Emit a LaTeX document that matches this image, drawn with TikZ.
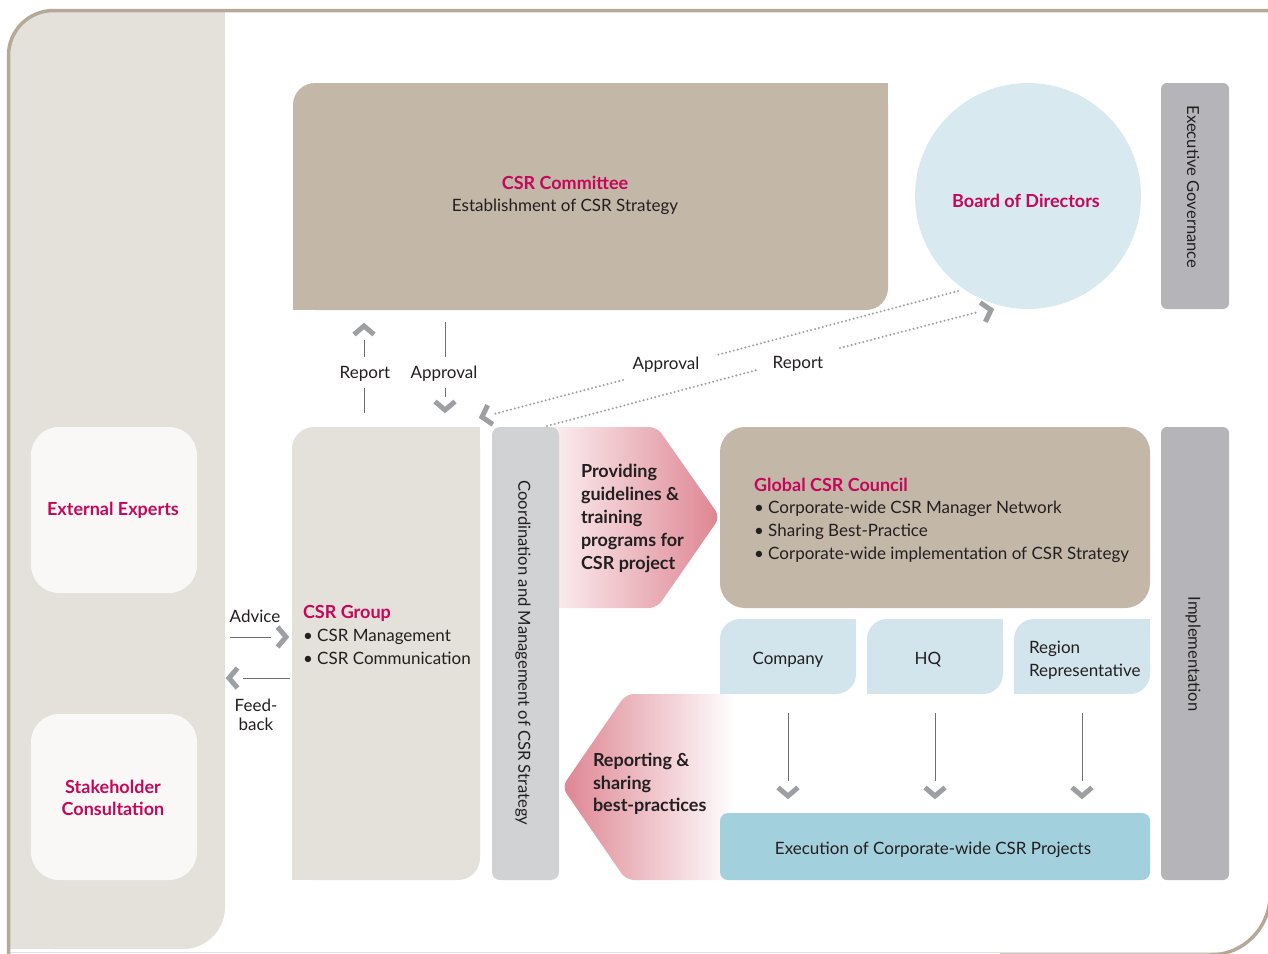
\documentclass[tikz,border=0pt]{standalone}
\usepackage{fontspec}
\setmainfont{Lato}
\usetikzlibrary{calc}
\definecolor{framec}{HTML}{B7A997}
\definecolor{panel}{HTML}{E4E0DA}
\definecolor{tanc}{HTML}{C3B7A8}
\definecolor{boardc}{HTML}{D9E9F0}
\definecolor{barc}{HTML}{B5B5B9}
\definecolor{coordc}{HTML}{D1D2D4}
\definecolor{lblue}{HTML}{D2E5EC}
\definecolor{execc}{HTML}{A3D0DD}
\definecolor{mag}{HTML}{C4075A}
\definecolor{pinkd}{HTML}{DE8592}
\definecolor{pinkl}{HTML}{FCF3F4}
\definecolor{boxw}{HTML}{F9F8F6}
\definecolor{chevc}{HTML}{9D9FA3}
\definecolor{dotc}{HTML}{A0A2A6}
\definecolor{thinc}{HTML}{6D6E71}
\definecolor{txt}{HTML}{231F20}
\tikzset{
  chev/.pic={\draw[draw=chevc, line width=5pt, line join=miter, line cap=butt] (-8.5,-10) -- (0,0) -- (-8.5,10);},
}
\newcommand{\hdfont}{\fontsize{18}{22.7}\selectfont\bfseries}
\begin{document}
\begin{tikzpicture}[x=1pt,y=-1pt,
  every node/.style={font=\fontsize{17}{22.7}\selectfont, text=txt, inner sep=0pt, outer sep=0pt},
  lb/.style={yshift=-2pt},
  thinl/.style={draw=thinc, line width=0.8pt},
  dotl/.style={draw=dotc, line width=2.3pt, line cap=round, dash pattern=on 0pt off 4pt},
  hd/.style={font=\hdfont, text=mag, yshift=-2pt},
  bd/.style={font=\fontsize{18}{22.8}\selectfont\bfseries, text=txt, align=left, yshift=-2pt},
  rot/.style={rotate=-90, font=\fontsize{16.6}{20}\selectfont},
]
\useasboundingbox (0,0) rectangle (1268,953);
% ---------- background panel and frame ----------
\fill[panel, rounded corners=42] (10,12) rectangle (225,949);
\fill[panel] (10,880) rectangle (80,949);
\fill[panel] (150,12) rectangle (225,90);
\draw[draw=black!12, line width=0.8pt] (10,952) -- (1230,952);
\draw[framec, line width=3.5pt, rounded corners=45] (8.5,1000) -- (8.5,10.5) -- (1300,10.5);
\draw[framec, line width=3.5pt, rounded corners=60] (1270,700) -- (1270,955) -- (1000,955);

% ---------- left boxes ----------
\node[fill=boxw, rounded corners=28, minimum width=166pt, minimum height=166pt, anchor=north west] (ext) at (31,427) {};
\node[hd] (extT) at (113,508) {External Experts};
\node[fill=boxw, rounded corners=28, minimum width=166pt, minimum height=166pt, anchor=north west] (stk) at (31,714) {};
\node[hd, align=center] (stkT) at (113,796) {Stakeholder\\Consultation};

% ---------- CSR Committee ----------
\node[fill=tanc, rounded corners=22, minimum width=595pt, minimum height=227pt, anchor=north west] (comm) at (293,83) {};
\fill[tanc] (840,83) rectangle (888,130);
\fill[tanc] (293,260) rectangle (340,310);
\node[lb, align=center] (commT) at (565,193.5) {\textcolor{mag}{\hdfont CSR Committee}\\Establishment of CSR Strategy};

% ---------- Board ----------
\node[circle, fill=boardc, minimum size=226pt] (board) at (1028,196) {};
\node[hd] (boardT) at (1026,199) {Board of Directors};

% ---------- side bars ----------
\node[fill=barc, rounded corners=6, minimum width=68pt, minimum height=226pt, anchor=north west] (gov) at (1161,83) {};
\node[rot] (govT) at (1193,187) {Executive Governance};
\node[fill=barc, rounded corners=6, minimum width=68pt, minimum height=453pt, anchor=north west] (impl) at (1161,427) {};
\node[rot] (implT) at (1193,654) {Implementation};

% ---------- pink arrows ----------
\shade[left color=pinkl, right color=pinkd, rounded corners=8] (545,427) -- (657,427) -- (720,517) -- (657,608) -- (545,608) -- cycle;
\node[bd, anchor=west] (provT) at (581,516.5) {Providing\\guidelines \&\\training\\programs for\\CSR project};
\shade[left color=pinkd, right color=white, rounded corners=8] (562,787) -- (626,694) -- (735,694) -- (735,880) -- (626,880) -- cycle;
\node[bd, anchor=west] (repT) at (593,782) {Reporting \&\\sharing\\best-practices};

% ---------- CSR Group ----------
\node[fill=panel, rounded corners=22, minimum width=188pt, minimum height=453pt, anchor=north west] (grp) at (292,427) {};
\fill[panel] (440,427) rectangle (480,470);
\fill[panel] (292,840) rectangle (330,880);
\node[lb, anchor=west, align=left] (grpT) at (303,633) {\textcolor{mag}{\hdfont CSR Group}\\\textbullet\ CSR Management\\\textbullet\ CSR Communication};

% ---------- Coordination bar ----------
\node[fill=coordc, rounded corners=8, minimum width=67pt, minimum height=453pt, anchor=north west] (coord) at (492,427) {};
\node[rot] (coordT) at (523,653) {Coordination and Management of CSR Strategy};

% ---------- Global CSR Council ----------
\node[fill=tanc, rounded corners=25, minimum width=430pt, minimum height=181pt, anchor=north west] (gcc) at (720,427) {};
\node[lb, anchor=west, align=left] (gccT) at (754,518) {\textcolor{mag}{\hdfont Global CSR Council}\\\textbullet\ Corporate-wide CSR Manager Network\\\textbullet\ Sharing Best-Practice\\\textbullet\ Corporate-wide implementation of CSR Strategy};

% ---------- small boxes ----------
\node[fill=lblue, rounded corners=20, minimum width=136pt, minimum height=75pt, anchor=north west] (comp) at (720,619) {};
\fill[lblue] (826,619) rectangle (856,650);
\fill[lblue] (720,664) rectangle (750,694);
\node[lb] (compT) at (788,658) {Company};
\node[fill=lblue, rounded corners=20, minimum width=136pt, minimum height=75pt, anchor=north west] (hq) at (867,619) {};
\fill[lblue] (973,619) rectangle (1003,650);
\fill[lblue] (867,664) rectangle (897,694);
\node[lb] (hqT) at (928,658) {HQ};
\node[fill=lblue, rounded corners=20, minimum width=136pt, minimum height=75pt, anchor=north west] (reg) at (1014,619) {};
\fill[lblue] (1120,619) rectangle (1150,650);
\fill[lblue] (1014,664) rectangle (1044,694);
\node[lb, anchor=west, align=left] (regT) at (1029,658) {Region\\Representative};

% ---------- Execution ----------
\node[fill=execc, rounded corners=8, minimum width=430pt, minimum height=67pt, anchor=north west] (exe) at (720,813) {};
\node[lb] (exeT) at (933,848) {Execution of Corporate-wide CSR Projects};

% ---------- labels ----------
\node[lb] (lRep) at (365,372) {Report};
\node[lb] (lApp) at (444,372) {Approval};
\node[lb] (lApp2) at (666,363) {Approval};
\node[lb] (lRep2) at (798,362) {Report};
\node[lb] (lAdv) at (255,614) {Advice};
\node[lb, align=center, font=\fontsize{17}{19}\selectfont] (lFb) at (256,712.5) {Feed-\\back};

% ---------- coordinates ----------
\coordinate (r0) at (364,413);
\coordinate (r1) at (364,388);
\coordinate (r2) at (364,357);
\coordinate (r3) at (364,340);
\coordinate (a0) at (445,322);
\coordinate (a1) at (445,357);
\coordinate (a2) at (445,388);
\coordinate (a3) at (445,397);
\coordinate (adv0) at (230,637);
\coordinate (adv1) at (271,637);
\coordinate (fb0) at (290,678);
\coordinate (fb1) at (243,678);
\coordinate (c0) at (788,713);
\coordinate (c1) at (788,781);
\coordinate (h0) at (935,713);
\coordinate (h1) at (935,781);
\coordinate (g0) at (1082,713);
\coordinate (g1) at (1082,781);
\coordinate (ap0) at (958,291);
\coordinate (ap1) at (717,355);
\coordinate (ap2) at (623,380);
\coordinate (ap3) at (494,414);
\coordinate (rp0) at (547,426);
\coordinate (rp1) at (757,370);
\coordinate (rp2) at (840,348);
\coordinate (rp3) at (978,312);

% ---------- connectors ----------
\draw[thinl] (r0) -- (r1);
\draw[thinl] (r2) -- (r3);
\pic[rotate=90] at (364,326) {chev};
\draw[thinl] (a0) -- (a1);
\draw[thinl] (a2) -- (a3);
\pic[rotate=-90] at (445,410) {chev};
\draw[thinl] (adv0) -- (adv1);
\pic at (286,637) {chev};
\draw[thinl] (fb0) -- (fb1);
\pic[rotate=180] at (229,678) {chev};
\draw[thinl] (c0) -- (c1);
\pic[rotate=-90] at (788,796) {chev};
\draw[thinl] (h0) -- (h1);
\pic[rotate=-90] at (935,796) {chev};
\draw[thinl] (g0) -- (g1);
\pic[rotate=-90] at (1082,796) {chev};
\draw[dotl] (ap0) -- (ap1);
\draw[dotl] (ap2) -- (ap3);
\pic[rotate=195] at (482,417) {chev};
\draw[dotl] (rp0) -- (rp1);
\draw[dotl] (rp2) -- (rp3);
\pic[rotate=15] at (991,310) {chev};
\end{tikzpicture}
\end{document}
